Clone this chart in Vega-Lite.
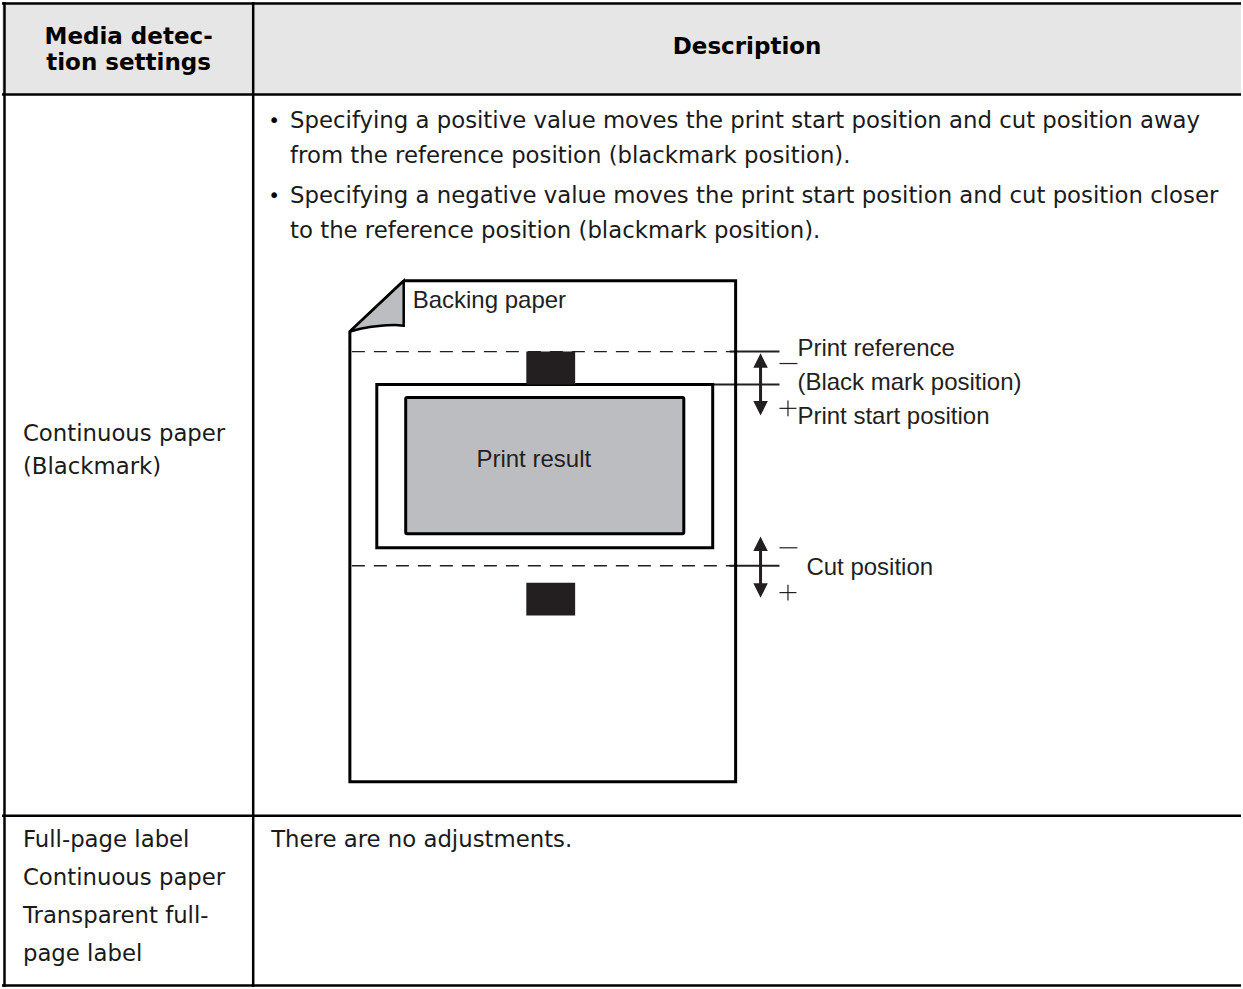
{
  "$schema": "https://vega.github.io/schema/vega-lite/v6.json",
  "width": 1243,
  "height": 989,
  "autosize": {"type": "fit", "contains": "padding"},
  "padding": 0,
  "background": "white",
  "config": {"view": {"stroke": null}},
  "datasets": {
    "headerBg": [{"x": 0, "x2": 1243, "y": 0, "y2": 93}],
    "tableRules": [
      {"x": 0, "x2": 1243, "y": 1.5, "y2": 1.5},
      {"x": 0, "x2": 1243, "y": 93, "y2": 93},
      {"x": 0, "x2": 1243, "y": 817, "y2": 817},
      {"x": 0, "x2": 1243, "y": 987.5, "y2": 987.5},
      {"x": 2.5, "x2": 2.5, "y": 0, "y2": 989},
      {"x": 252, "x2": 252, "y": 0, "y2": 989}
    ],
    "dashRules": [
      {"x": 351, "x2": 734, "y": 351, "y2": 351},
      {"x": 351, "x2": 734, "y": 566, "y2": 566}
    ],
    "leaderRules": [
      {"x": 730, "x2": 780, "y": 351, "y2": 351},
      {"x": 713, "x2": 780, "y": 384, "y2": 384},
      {"x": 730, "x2": 780, "y": 566, "y2": 566}
    ],
    "signRules": [
      {"x": 780, "x2": 798, "y": 363, "y2": 363},
      {"x": 780, "x2": 797, "y": 408, "y2": 408},
      {"x": 788.5, "x2": 788.5, "y": 400, "y2": 416},
      {"x": 780, "x2": 798, "y": 548, "y2": 548},
      {"x": 780, "x2": 797, "y": 593, "y2": 593},
      {"x": 788.5, "x2": 788.5, "y": 585, "y2": 601}
    ],
    "paperOutline": [
      {"i": 0, "x": 403, "y": 280},
      {"i": 1, "x": 736, "y": 280},
      {"i": 2, "x": 736, "y": 783},
      {"i": 3, "x": 349, "y": 783},
      {"i": 4, "x": 349, "y": 331},
      {"i": 5, "x": 403, "y": 280}
    ],
    "flap": [
      {"x": 349, "yt": 331, "yb": 331},
      {"x": 362, "yt": 318.7, "yb": 327.5},
      {"x": 378, "yt": 303.6, "yb": 325.2},
      {"x": 394, "yt": 288.5, "yb": 324.2},
      {"x": 403, "yt": 280, "yb": 325}
    ],
    "labelRect": [{"x": 376, "x2": 713, "y": 384, "y2": 548}],
    "printRect": [{"x": 405, "x2": 684, "y": 397, "y2": 534}],
    "marks": [
      {"x": 526, "x2": 575, "y": 351, "y2": 384},
      {"x": 526, "x2": 575, "y": 583, "y2": 616}
    ],
    "shafts": [
      {"x": 761, "x2": 761, "y": 364, "y2": 404},
      {"x": 761, "x2": 761, "y": 548, "y2": 587}
    ],
    "headsUp": [
      {"x": 761, "y": 360},
      {"x": 761, "y": 544}
    ],
    "headsDown": [
      {"x": 761, "y": 408},
      {"x": 761, "y": 591}
    ],
    "diagramTextLeft": [
      {"x": 412, "y": 300.5, "text": "Backing paper"},
      {"x": 798, "y": 348, "text": "Print reference"},
      {"x": 798, "y": 383, "text": "(Black mark position)"},
      {"x": 798, "y": 417, "text": "Print start position"},
      {"x": 807, "y": 568, "text": "Cut position"}
    ],
    "diagramTextCenter": [
      {"x": 533.5, "y": 460, "text": "Print result"}
    ],
    "headerText": [
      {"x": 127, "y": 35, "text": "Media detec-"},
      {"x": 127, "y": 61, "text": "tion settings"},
      {"x": 747.5, "y": 45, "text": "Description"}
    ],
    "bodyText": [
      {"x": 289, "y": 119.5, "text": "Specifying a positive value moves the print start position and cut position away"},
      {"x": 289, "y": 154.5, "text": "from the reference position (blackmark position)."},
      {"x": 289, "y": 194.5, "text": "Specifying a negative value moves the print start position and cut position closer"},
      {"x": 289, "y": 229.5, "text": "to the reference position (blackmark position)."},
      {"x": 270, "y": 841, "text": "There are no adjustments."},
      {"x": 21, "y": 434, "text": "Continuous paper"},
      {"x": 21, "y": 467, "text": "(Blackmark)"},
      {"x": 21, "y": 841, "text": "Full-page label"},
      {"x": 21, "y": 880, "text": "Continuous paper"},
      {"x": 21, "y": 918, "text": "Transparent full-"},
      {"x": 21, "y": 956, "text": "page label"}
    ],
    "bullets": [
      {"x": 273, "y": 119.5, "text": "•"},
      {"x": 273, "y": 194.5, "text": "•"}
    ]
  },
  "layer": [
    {
      "data": {"name": "headerBg"},
      "mark": {"type": "rect", "fill": "#e6e6e6"},
      "encoding": {
        "x": {"field": "x", "type": "quantitative", "scale": {"domain": [0, 1243], "nice": false, "zero": false}, "axis": null},
        "x2": {"field": "x2"},
        "y": {"field": "y", "type": "quantitative", "scale": {"domain": [0, 989], "nice": false, "zero": false, "reverse": true}, "axis": null},
        "y2": {"field": "y2"}
      }
    },
    {
      "data": {"name": "tableRules"},
      "mark": {"type": "rule", "stroke": "#000000", "strokeWidth": 2.5},
      "encoding": {
        "x": {"field": "x", "type": "quantitative", "scale": {"domain": [0, 1243], "nice": false, "zero": false}, "axis": null},
        "x2": {"field": "x2"},
        "y": {"field": "y", "type": "quantitative", "scale": {"domain": [0, 989], "nice": false, "zero": false, "reverse": true}, "axis": null},
        "y2": {"field": "y2"}
      }
    },
    {
      "data": {"name": "dashRules"},
      "mark": {"type": "rule", "stroke": "#231f20", "strokeWidth": 1.4, "strokeDash": [13, 9]},
      "encoding": {
        "x": {"field": "x", "type": "quantitative", "scale": {"domain": [0, 1243], "nice": false, "zero": false}, "axis": null},
        "x2": {"field": "x2"},
        "y": {"field": "y", "type": "quantitative", "scale": {"domain": [0, 989], "nice": false, "zero": false, "reverse": true}, "axis": null},
        "y2": {"field": "y2"}
      }
    },
    {
      "data": {"name": "leaderRules"},
      "mark": {"type": "rule", "stroke": "#231f20", "strokeWidth": 2},
      "encoding": {
        "x": {"field": "x", "type": "quantitative", "scale": {"domain": [0, 1243], "nice": false, "zero": false}, "axis": null},
        "x2": {"field": "x2"},
        "y": {"field": "y", "type": "quantitative", "scale": {"domain": [0, 989], "nice": false, "zero": false, "reverse": true}, "axis": null},
        "y2": {"field": "y2"}
      }
    },
    {
      "data": {"name": "paperOutline"},
      "mark": {"type": "line", "stroke": "#000000", "strokeWidth": 3, "strokeJoin": "miter"},
      "encoding": {
        "x": {"field": "x", "type": "quantitative", "scale": {"domain": [0, 1243], "nice": false, "zero": false}, "axis": null},
        "y": {"field": "y", "type": "quantitative", "scale": {"domain": [0, 989], "nice": false, "zero": false, "reverse": true}, "axis": null},
        "order": {"field": "i", "type": "quantitative"}
      }
    },
    {
      "data": {"name": "flap"},
      "mark": {"type": "area", "fill": "#bcbdc0", "fillOpacity": 1, "stroke": "#000000", "strokeWidth": 2.5, "strokeJoin": "miter", "interpolate": "monotone"},
      "encoding": {
        "x": {"field": "x", "type": "quantitative", "scale": {"domain": [0, 1243], "nice": false, "zero": false}, "axis": null},
        "y": {"field": "yt", "type": "quantitative", "scale": {"domain": [0, 989], "nice": false, "zero": false, "reverse": true}, "axis": null},
        "y2": {"field": "yb"}
      }
    },
    {
      "data": {"name": "labelRect"},
      "mark": {"type": "rect", "fill": "#ffffff", "stroke": "#000000", "strokeWidth": 3},
      "encoding": {
        "x": {"field": "x", "type": "quantitative", "scale": {"domain": [0, 1243], "nice": false, "zero": false}, "axis": null},
        "x2": {"field": "x2"},
        "y": {"field": "y", "type": "quantitative", "scale": {"domain": [0, 989], "nice": false, "zero": false, "reverse": true}, "axis": null},
        "y2": {"field": "y2"}
      }
    },
    {
      "data": {"name": "printRect"},
      "mark": {"type": "rect", "fill": "#bcbdc0", "stroke": "#000000", "strokeWidth": 3, "cornerRadius": 1.5},
      "encoding": {
        "x": {"field": "x", "type": "quantitative", "scale": {"domain": [0, 1243], "nice": false, "zero": false}, "axis": null},
        "x2": {"field": "x2"},
        "y": {"field": "y", "type": "quantitative", "scale": {"domain": [0, 989], "nice": false, "zero": false, "reverse": true}, "axis": null},
        "y2": {"field": "y2"}
      }
    },
    {
      "data": {"name": "marks"},
      "mark": {"type": "rect", "fill": "#231f20"},
      "encoding": {
        "x": {"field": "x", "type": "quantitative", "scale": {"domain": [0, 1243], "nice": false, "zero": false}, "axis": null},
        "x2": {"field": "x2"},
        "y": {"field": "y", "type": "quantitative", "scale": {"domain": [0, 989], "nice": false, "zero": false, "reverse": true}, "axis": null},
        "y2": {"field": "y2"}
      }
    },
    {
      "data": {"name": "shafts"},
      "mark": {"type": "rule", "stroke": "#231f20", "strokeWidth": 3},
      "encoding": {
        "x": {"field": "x", "type": "quantitative", "scale": {"domain": [0, 1243], "nice": false, "zero": false}, "axis": null},
        "x2": {"field": "x2"},
        "y": {"field": "y", "type": "quantitative", "scale": {"domain": [0, 989], "nice": false, "zero": false, "reverse": true}, "axis": null},
        "y2": {"field": "y2"}
      }
    },
    {
      "data": {"name": "headsUp"},
      "mark": {"type": "point", "shape": "M-1,1L1,1L0,-1Z", "filled": true, "fill": "#231f20", "fillOpacity": 1, "strokeWidth": 0, "size": 210},
      "encoding": {
        "x": {"field": "x", "type": "quantitative", "scale": {"domain": [0, 1243], "nice": false, "zero": false}, "axis": null},
        "y": {"field": "y", "type": "quantitative", "scale": {"domain": [0, 989], "nice": false, "zero": false, "reverse": true}, "axis": null}
      }
    },
    {
      "data": {"name": "headsDown"},
      "mark": {"type": "point", "shape": "M-1,-1L1,-1L0,1Z", "filled": true, "fill": "#231f20", "fillOpacity": 1, "strokeWidth": 0, "size": 210},
      "encoding": {
        "x": {"field": "x", "type": "quantitative", "scale": {"domain": [0, 1243], "nice": false, "zero": false}, "axis": null},
        "y": {"field": "y", "type": "quantitative", "scale": {"domain": [0, 989], "nice": false, "zero": false, "reverse": true}, "axis": null}
      }
    },
    {
      "data": {"name": "signRules"},
      "mark": {"type": "rule", "stroke": "#231f20", "strokeWidth": 1.2},
      "encoding": {
        "x": {"field": "x", "type": "quantitative", "scale": {"domain": [0, 1243], "nice": false, "zero": false}, "axis": null},
        "x2": {"field": "x2"},
        "y": {"field": "y", "type": "quantitative", "scale": {"domain": [0, 989], "nice": false, "zero": false, "reverse": true}, "axis": null},
        "y2": {"field": "y2"}
      }
    },
    {
      "data": {"name": "diagramTextLeft"},
      "mark": {"type": "text", "font": "Liberation Sans", "fontSize": 24, "align": "left", "baseline": "middle", "fill": "#231f20"},
      "encoding": {
        "x": {"field": "x", "type": "quantitative", "scale": {"domain": [0, 1243], "nice": false, "zero": false}, "axis": null},
        "y": {"field": "y", "type": "quantitative", "scale": {"domain": [0, 989], "nice": false, "zero": false, "reverse": true}, "axis": null},
        "text": {"field": "text"}
      }
    },
    {
      "data": {"name": "diagramTextCenter"},
      "mark": {"type": "text", "font": "Liberation Sans", "fontSize": 24, "align": "center", "baseline": "middle", "fill": "#231f20"},
      "encoding": {
        "x": {"field": "x", "type": "quantitative", "scale": {"domain": [0, 1243], "nice": false, "zero": false}, "axis": null},
        "y": {"field": "y", "type": "quantitative", "scale": {"domain": [0, 989], "nice": false, "zero": false, "reverse": true}, "axis": null},
        "text": {"field": "text"}
      }
    },
    {
      "data": {"name": "headerText"},
      "mark": {"type": "text", "font": "DejaVu Sans", "fontSize": 23, "fontWeight": "bold", "align": "center", "baseline": "middle", "fill": "#000000"},
      "encoding": {
        "x": {"field": "x", "type": "quantitative", "scale": {"domain": [0, 1243], "nice": false, "zero": false}, "axis": null},
        "y": {"field": "y", "type": "quantitative", "scale": {"domain": [0, 989], "nice": false, "zero": false, "reverse": true}, "axis": null},
        "text": {"field": "text"}
      }
    },
    {
      "data": {"name": "bodyText"},
      "mark": {"type": "text", "font": "DejaVu Sans", "fontSize": 22.8, "align": "left", "baseline": "middle", "fill": "#1a1a1a"},
      "encoding": {
        "x": {"field": "x", "type": "quantitative", "scale": {"domain": [0, 1243], "nice": false, "zero": false}, "axis": null},
        "y": {"field": "y", "type": "quantitative", "scale": {"domain": [0, 989], "nice": false, "zero": false, "reverse": true}, "axis": null},
        "text": {"field": "text"}
      }
    },
    {
      "data": {"name": "bullets"},
      "mark": {"type": "text", "font": "DejaVu Sans", "fontSize": 20, "align": "center", "baseline": "middle", "fill": "#000000"},
      "encoding": {
        "x": {"field": "x", "type": "quantitative", "scale": {"domain": [0, 1243], "nice": false, "zero": false}, "axis": null},
        "y": {"field": "y", "type": "quantitative", "scale": {"domain": [0, 989], "nice": false, "zero": false, "reverse": true}, "axis": null},
        "text": {"field": "text"}
      }
    }
  ]
}
